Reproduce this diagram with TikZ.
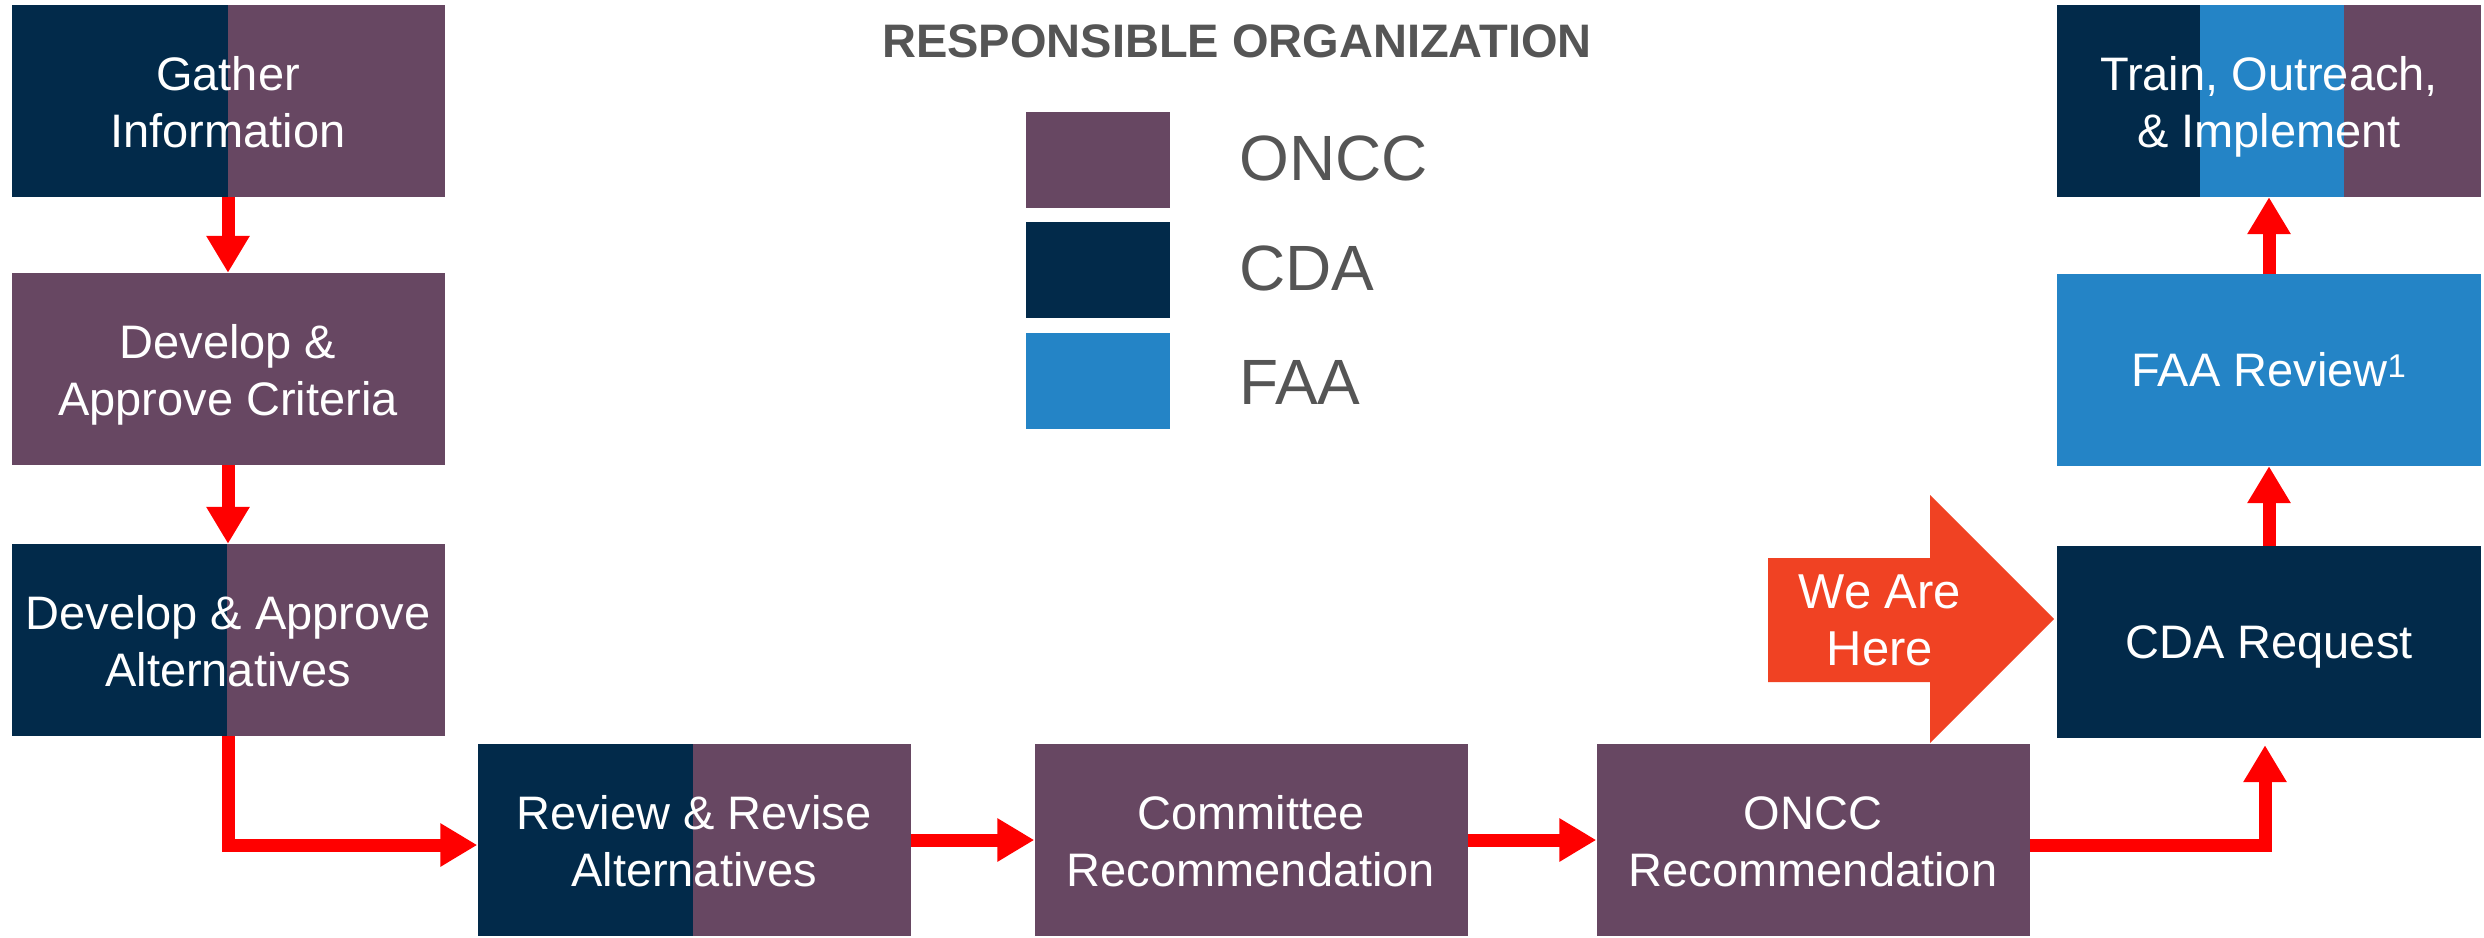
\documentclass[tikz,border=0pt]{standalone}
\usepackage{fontspec}
\setmainfont{Liberation Sans}
\usetikzlibrary{arrows.meta}

\definecolor{oncc}{HTML}{674762}
\definecolor{cda}{HTML}{022A4A}
\definecolor{faa}{HTML}{2484C6}
\definecolor{flowred}{HTML}{FF0000}
\definecolor{herefill}{HTML}{F04223}
\definecolor{legendgray}{HTML}{555555}

% fixed line struts so every box places its text alike
\newcommand{\topst}{\rule{0pt}{46pt}}
\newcommand{\onest}{\rule{0pt}{43pt}}
\newcommand{\botst}{\rule[-10pt]{0pt}{10pt}}

\tikzset{
  stepbox/.style={rectangle, inner sep=0pt, minimum height=192pt, text=white,
    align=center, font=\fontsize{47}{57}\selectfont},
  leftbox/.style={stepbox, minimum width=433pt},
  rightbox/.style={stepbox, minimum width=424pt},
  cdapart/.style={path picture={\fill[cda] (path picture bounding box.north west)
      rectangle ([xshift=#1]path picture bounding box.south west);}},
  threepart/.style={path picture={
      \fill[cda] (path picture bounding box.north west)
        rectangle ([xshift=143pt]path picture bounding box.south west);
      \fill[faa] ([xshift=143pt]path picture bounding box.north west)
        rectangle ([xshift=287pt]path picture bounding box.south west);}},
  flow/.style={draw=flowred, line width=13pt, line join=miter,
    -{Triangle[width=41pt,length=37pt]}},
  legsq/.style={rectangle, inner sep=0pt, minimum width=144pt, minimum height=96pt},
  leglabel/.style={anchor=base west, text=legendgray, font=\fontsize{64}{70}\selectfont},
}

\begin{document}
\begin{tikzpicture}[x=1pt,y=-1pt]
  \fill[white] (0,0) rectangle (2484,937);
  \useasboundingbox (0,0) rectangle (2484,937);

  % legend
  \node[anchor=base, text=legendgray, font=\bfseries\fontsize{47}{52}\selectfont]
    (legtitle) at (1237,57) {RESPONSIBLE ORGANIZATION};
  \node[legsq, fill=oncc] (sqoncc) at (1098,160) {};
  \node[legsq, fill=cda]  (sqcda)  at (1098,270) {};
  \node[legsq, fill=faa]  (sqfaa)  at (1098,381) {};
  \node[leglabel] (lboncc) at (1236,180) {ONCC};
  \node[leglabel] (lbcda)  at (1236,290) {CDA};
  \node[leglabel] (lbfaa)  at (1236,404) {FAA};

  % process steps
  \node[leftbox, fill=oncc, cdapart=216pt] (gather) at (228,101)
    {\topst Gather\\Information\botst};
  \node[leftbox, fill=oncc] (crit) at (228,369)
    {\topst Develop \&\\Approve Criteria\botst};
  \node[leftbox, fill=oncc, cdapart=215pt] (devalt) at (228,640)
    {\topst Develop \& Approve\\Alternatives\botst};
  \node[leftbox, fill=oncc, cdapart=215pt] (review) at (694,840)
    {\topst Review \& Revise\\Alternatives\botst};
  \node[leftbox, fill=oncc] (committee) at (1251,840)
    {\topst Committee\\Recommendation\botst};
  \node[leftbox, fill=oncc] (onccrec) at (1813,840)
    {\topst ONCC\\Recommendation\botst};
  \node[rightbox, fill=cda] (cdareq) at (2269,642) {\onest CDA Request\botst};
  \node[rightbox, fill=faa] (faarev) at (2269,370) {\onest FAA Review\textsuperscript{1}\botst};
  \node[rightbox, fill=oncc, threepart] (train) at (2269,101)
    {\topst Train, Outreach,\\\& Implement\botst};

  % current position marker
  \fill[herefill] (1768,558) -- (1930,558) -- (1930,495) -- (2054,619)
    -- (1930,743) -- (1930,682) -- (1768,682) -- cycle;
  \node[text=white, align=center, font=\fontsize{49}{57}\selectfont] (here) at (1880,620) {We Are\\Here};

  % flow connectors
  \draw[flow] (gather) -- (crit);
  \draw[flow] (crit) -- (devalt);
  \draw[flow] (devalt.south) |- ([yshift=-5pt]review.west);
  \draw[flow] (review.east) -- (committee.west);
  \draw[flow] (committee.east) -- (onccrec.west);
  \draw[flow] ([yshift=-5pt]onccrec.east) -| ([xshift=-4pt,yshift=-7pt]cdareq.south);
  \draw[flow] (cdareq) -- (faarev);
  \draw[flow] (faarev) -- (train);
\end{tikzpicture}
\end{document}
